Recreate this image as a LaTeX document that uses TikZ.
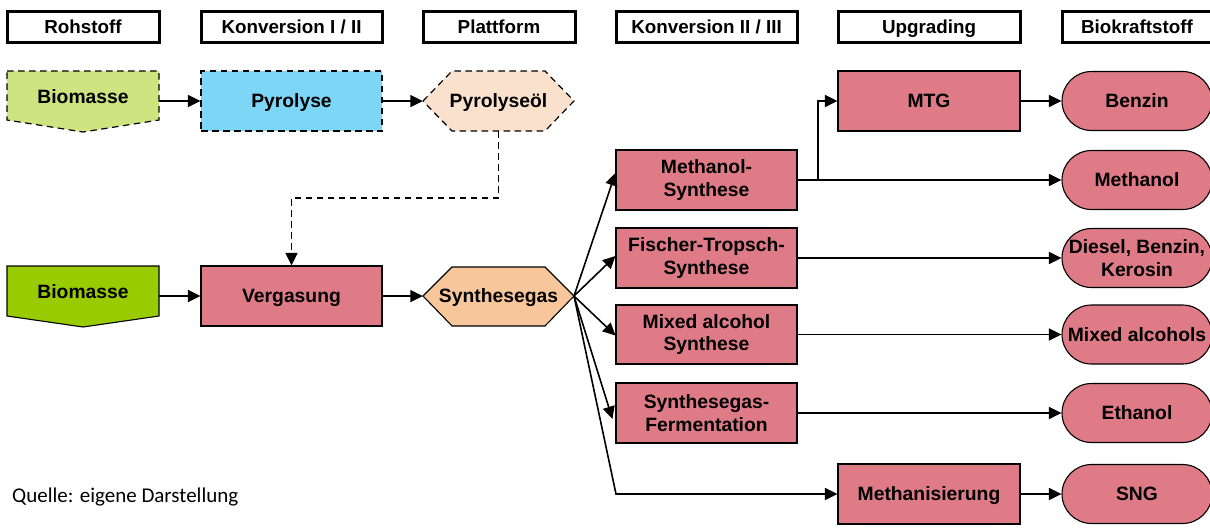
\documentclass[tikz,border=0pt]{standalone}
\usepackage{fontspec}
\setmainfont{Liberation Sans}
\newfontfamily\calibri{Carlito}
\usetikzlibrary{arrows.meta}
\definecolor{lgreen}{RGB}{206,228,128}
\definecolor{dgreen}{RGB}{153,204,0}
\definecolor{lblue}{RGB}{125,214,245}
\definecolor{lpeach}{RGB}{250,225,206}
\definecolor{peach}{RGB}{248,198,155}
\definecolor{rose}{RGB}{222,123,135}
\tikzset{
  one/.style={text height=13.8pt, text depth=0pt},
  hdr/.style={draw, line width=3pt, fill=white, minimum height=31pt, inner sep=0pt,
    font=\fontsize{18.8}{22}\selectfont\bfseries, one},
  box/.style={draw, line width=1.1pt, fill=rose, minimum width=181pt, minimum height=60pt,
    inner sep=0pt, align=center, font=\fontsize{19.3}{22.5}\selectfont\bfseries},
  pill/.style={box, rounded corners=29.5pt, minimum width=150pt, minimum height=59pt},
  txt/.style={inner sep=0pt, align=center, font=\fontsize{19.3}{22.5}\selectfont\bfseries},
  dashline/.style={line width=1.2pt, dash pattern=on 6.5pt off 4.5pt},
  arr/.style={line width=1.6pt, -{Triangle[length=12.5pt,width=12pt]}},
  darr/.style={arr, dashline},
}
\begin{document}
\begin{tikzpicture}[x=1pt,y=-1pt]
\useasboundingbox (0,0) rectangle (1210,528);
% headers
\node[hdr, minimum width=152pt] (h1) at (83,27) {Rohstoff};
\node[hdr, minimum width=181pt] (h2) at (291.5,27) {Konversion I / II};
\node[hdr, minimum width=152pt] (h3) at (499,27) {Plattform};
\node[hdr, minimum width=181pt] (h4) at (706.5,27) {Konversion II / III};
\node[hdr, minimum width=182pt] (h5) at (929,27) {Upgrading};
\node[hdr, minimum width=150pt] (h6) at (1137,27) {Biokraftstoff};
% row 1 shapes
\draw[dashline, fill=lgreen] (7,71) -- (159,71) -- (159,120) -- (83,132) -- (7,120) -- cycle;
\node[txt, one, minimum width=152pt, minimum height=58pt] (bm1) at (83,101) {\raisebox{4pt}{Biomasse}};
\node[box, one, fill=lblue, dashline] (pyro) at (291.5,101) {Pyrolyse};
\draw[dashline, fill=lpeach] (423,101) -- (452,71) -- (545,71) -- (574,101) -- (545,131) -- (452,131) -- cycle;
\node[txt, one, minimum width=151pt, minimum height=60pt] (poel) at (498.5,101) {Pyrolyseöl};
% row 2 shapes
\draw[line width=1.1pt, fill=dgreen] (7,266) -- (159,266) -- (159,316) -- (83,327) -- (7,316) -- cycle;
\node[txt, one, minimum width=152pt, minimum height=58pt] (bm2) at (83,296) {\raisebox{4pt}{Biomasse}};
\node[box, one] (verg) at (291.5,296) {Vergasung};
\draw[line width=1.1pt, fill=peach] (423,296) -- (452,267) -- (545,267) -- (574,296) -- (545,326) -- (452,326) -- cycle;
\node[txt, one, minimum width=151pt, minimum height=59pt] (sg) at (498.5,296) {Synthesegas};
\coordinate (sgtip) at (574,296);
% Konversion II / III
\node[box] (ms) at (706.5,180) {Methanol-\\Synthese};
\node[box] (ft) at (706.5,258) {Fischer-Tropsch-\\Synthese};
\node[box, minimum height=59pt] (ma) at (706.5,334.5) {Mixed alcohol\\Synthese};
\node[box] (sf) at (706.5,413) {Synthesegas-\\Fermentation};
% Upgrading
\node[box, one, minimum width=182pt] (mtg) at (929,101) {MTG};
\node[box, one, minimum width=182pt] (meth) at (929,494) {Methanisierung};
% Biokraftstoff
\node[pill, one] (benz) at (1137,101) {Benzin};
\node[pill, one] (mol) at (1137,180) {Methanol};
\node[pill] (dbk) at (1137,258) {Diesel, Benzin,\\Kerosin};
\node[pill, one] (malc) at (1137,334.5) {Mixed alcohols};
\node[pill, one] (eth) at (1137,413) {Ethanol};
\node[pill, one] (sng) at (1137,494) {SNG};
% footnote
\node[anchor=west, inner sep=0pt, font=\calibri\fontsize{21}{24}\selectfont] (src) at (12,497) {Quelle: eigene Darstellung};
% connectors
\draw[arr] (bm1.east) -- (pyro.west);
\draw[arr] (pyro.east) -- (poel.west);
\draw[darr] (poel.south) |- (291.5,198) -- (verg.north);
\draw[arr] (bm2.east) -- (verg.west);
\draw[arr] (verg.east) -- (sg.west);
\draw[arr] (sgtip) -- ([yshift=7pt]ms.west);
\draw[arr] (sgtip) -- ([yshift=2pt]ft.west);
\draw[arr] (sgtip) -- ([yshift=-1pt]ma.west);
\draw[arr] (sgtip) -- ([xshift=-3pt,yshift=-6pt]sf.west);
\coordinate (mcorner) at (616,494);
\draw[arr] (sgtip) -- (mcorner) -- (meth.west);
\coordinate (mbranch) at (818,180);
\draw[arr] (ms.east) -- (mol.west);
\draw[arr] (mbranch) |- (mtg.west);
\draw[arr] (mtg.east) -- (benz.west);
\draw[arr] (ft.east) -- (dbk.west);
\draw[arr] (ma.east) -- (malc.west);
\draw[arr] (sf.east) -- (eth.west);
\draw[arr] (meth.east) -- (sng.west);
\end{tikzpicture}
\end{document}
